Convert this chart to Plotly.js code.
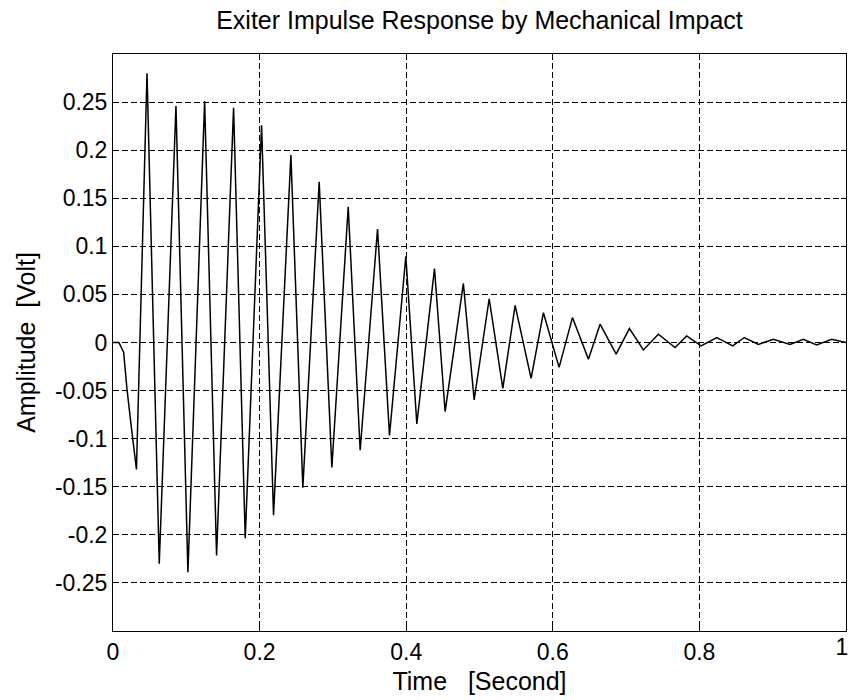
<!DOCTYPE html>
<html>
<head>
<meta charset="utf-8">
<script src="https://cdn.plot.ly/plotly-3.0.1.min.js"></script>
<style>html,body{margin:0;padding:0;background:#fff;}#chart{width:849px;height:700px;}</style>
</head>
<body>
<div id="chart"></div>
<script>
// Time samples (s) (turning points of the damped oscillation)
const timeSec = [0, 0.008, 0.0145, 0.019, 0.025, 0.032, 0.0464, 0.0631, 0.0859, 0.1022, 0.125, 0.1413, 0.1645, 0.1804, 0.2027, 0.219, 0.2427, 0.259, 0.2813, 0.2986, 0.3209, 0.3372, 0.3609, 0.3772, 0.3995, 0.4145, 0.4386, 0.4531, 0.478, 0.4927, 0.5132, 0.5318, 0.5486, 0.5704, 0.5872, 0.6086, 0.6268, 0.6486, 0.6645, 0.6864, 0.7045, 0.7236, 0.744, 0.7668, 0.7827, 0.8023, 0.8237, 0.8455, 0.8613, 0.8804, 0.9009, 0.9236, 0.9418, 0.96, 0.9805, 1.0];
// Amplitude (V)
const amplitudeVolt = [0, 0, -0.01, -0.048, -0.088, -0.132, 0.28, -0.23, 0.246, -0.239, 0.251, -0.2215, 0.244, -0.2036, 0.226, -0.1795, 0.195, -0.151, 0.167, -0.130, 0.141, -0.112, 0.118, -0.0967, 0.0897, -0.0846, 0.0769, -0.0718, 0.0614, -0.0597, 0.0455, -0.0476, 0.0386, -0.0373, 0.031, -0.0259, 0.0259, -0.0173, 0.019, -0.012, 0.0145, -0.0077, 0.0086, -0.0052, 0.0069, -0.0035, 0.0052, -0.0035, 0.0052, -0.002, 0.0034, -0.002, 0.0034, -0.0025, 0.0034, 0.0];

const xTickVals = [0, 0.2, 0.4, 0.6, 0.8, 1];
const xTickText = ["0", "0.2", "0.4", "0.6", "0.8", "1"];
const yTickVals = [-0.25, -0.2, -0.15, -0.1, -0.05, 0, 0.05, 0.1, 0.15, 0.2, 0.25];
const yTickText = ["-0.25", "-0.2", "-0.15", "-0.1", "-0.05", "0", "0.05", "0.1", "0.15", "0.2", "0.25"];

const FONT = "Liberation Sans, Arial, sans-serif";
const X_MAX = xTickVals[xTickVals.length - 1];

// The label at the right edge is drawn by an overlaid axis, nudged left so it stays inside the page
const mainXText = xTickVals.map((v, i) => v === X_MAX ? "" : xTickText[i]);
const edgeXVals = xTickVals.filter(v => v === X_MAX);
const edgeXText = xTickText.filter((t, i) => xTickVals[i] === X_MAX);

const trace = {
  x: timeSec,
  y: amplitudeVolt,
  type: "scatter",
  mode: "lines",
  line: {color: "#000000", width: 1.5},
  hoverinfo: "skip"
};

// invisible helper so the overlaid edge-label axis is rendered
const edgeAxisHelper = {
  x: [timeSec[timeSec.length - 1]],
  y: [amplitudeVolt[amplitudeVolt.length - 1]],
  xaxis: "x2",
  yaxis: "y",
  type: "scatter",
  mode: "markers",
  marker: {opacity: 0, size: 1},
  hoverinfo: "skip",
  showlegend: false
};

const tickFont = {family: FONT, size: 23, color: "#000000"};

const axisCommon = {
  showline: true,
  linecolor: "#000000",
  linewidth: 1,
  mirror: "ticks",
  ticks: "inside",
  ticklen: 5,
  tickcolor: "#000000",
  tickwidth: 1,
  showgrid: true,
  gridcolor: "#000000",
  gridwidth: 1,
  griddash: "6px,3px",
  zeroline: false,
  tickfont: tickFont
};

const layout = {
  width: 849,
  height: 700,
  paper_bgcolor: "#ffffff",
  plot_bgcolor: "#ffffff",
  showlegend: false,
  margin: {l: 113, r: 3, t: 54, b: 69, pad: 0},
  title: {
    text: "Exiter Impulse Response by Mechanical Impact",
    font: {family: FONT, size: 25, color: "#000000"},
    x: 0.5, xref: "paper", xanchor: "center",
    y: 1 - 20/700, yref: "container", yanchor: "middle"
  },
  xaxis: Object.assign({}, axisCommon, {
    range: [0, 1],
    tickvals: xTickVals,
    ticktext: mainXText,
    title: {text: "Time\u00a0\u00a0\u00a0[Second]", font: {family: FONT, size: 25, color: "#000000"}, standoff: 8}
  }),
  xaxis2: {
    overlaying: "x",
    anchor: "y",
    side: "bottom",
    range: [0, 1],
    showline: false,
    showgrid: false,
    zeroline: false,
    ticks: "",
    tickvals: edgeXVals,
    ticktext: edgeXText,
    ticklabelshift: -4,
    ticklabeloverflow: "allow",
    tickfont: tickFont
  },
  yaxis: Object.assign({}, axisCommon, {
    range: [-0.3, 0.3],
    tickvals: yTickVals,
    ticktext: yTickText,
    title: {text: "Amplitude\u00a0\u00a0[Volt]", font: {family: FONT, size: 25, color: "#000000"}, standoff: 12}
  })
};

Plotly.newPlot("chart", [trace, edgeAxisHelper], layout, {displayModeBar: false, staticPlot: true});
</script>
</body>
</html>
